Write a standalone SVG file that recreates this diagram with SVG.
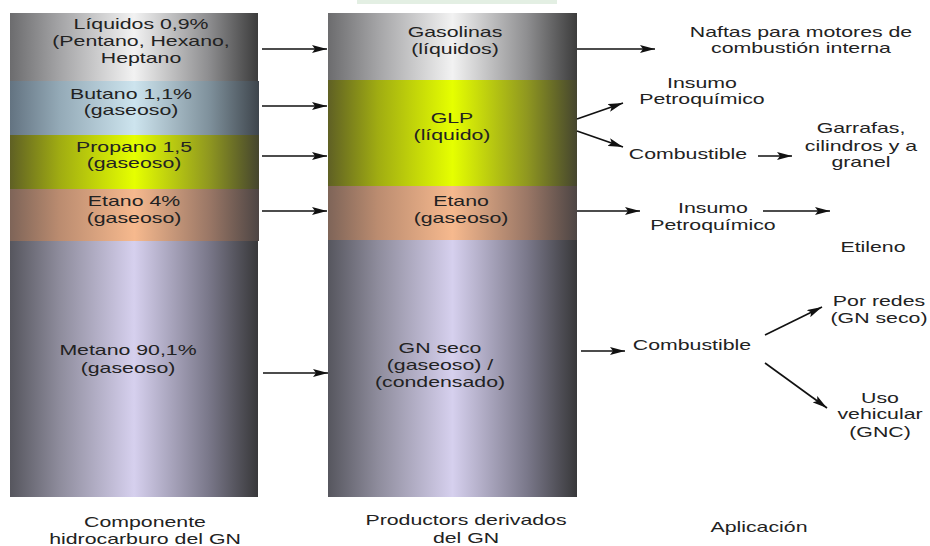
<svg xmlns="http://www.w3.org/2000/svg" width="930" height="546" viewBox="0 0 930 546">
  <defs>
    <style>
      text { font-family: "Liberation Sans", Arial, sans-serif; font-size: 15px; fill: #222; text-anchor: middle; }
      .link { stroke: #111; stroke-width: 1.6; fill: none; marker-end: url(#head); }
    </style>
    <marker id="head" markerUnits="userSpaceOnUse" markerWidth="16" markerHeight="8" refX="15" refY="4" orient="auto">
      <path d="M0,0 L15,4 L0,8 L3,4 z" fill="#111"/>
    </marker>
    <!-- cylinder-style horizontal shading, one per band colour -->
    <linearGradient id="gGray" x1="0" y1="0" x2="1" y2="0">
      <stop offset="0" stop-color="#6c6c6e"/>
      <stop offset="0.2" stop-color="#a4a4a6"/>
      <stop offset="0.5" stop-color="#f2f2f2"/>
      <stop offset="0.8" stop-color="#8e8e90"/>
      <stop offset="1" stop-color="#3c3c3c"/>
    </linearGradient>
    <linearGradient id="gBlue" x1="0" y1="0" x2="1" y2="0">
      <stop offset="0" stop-color="#637381"/>
      <stop offset="0.2" stop-color="#94aab7"/>
      <stop offset="0.5" stop-color="#cde4ee"/>
      <stop offset="0.8" stop-color="#7f919c"/>
      <stop offset="1" stop-color="#3e454c"/>
    </linearGradient>
    <linearGradient id="gLime" x1="0" y1="0" x2="1" y2="0">
      <stop offset="0" stop-color="#5f6024"/>
      <stop offset="0.2" stop-color="#a0ac12"/>
      <stop offset="0.5" stop-color="#e6ff00"/>
      <stop offset="0.8" stop-color="#8f9720"/>
      <stop offset="1" stop-color="#45452e"/>
    </linearGradient>
    <linearGradient id="gOrange" x1="0" y1="0" x2="1" y2="0">
      <stop offset="0" stop-color="#7e6458"/>
      <stop offset="0.2" stop-color="#bb8c70"/>
      <stop offset="0.5" stop-color="#f6b98e"/>
      <stop offset="0.8" stop-color="#9a7766"/>
      <stop offset="1" stop-color="#4d4544"/>
    </linearGradient>
    <linearGradient id="gLilac" x1="0" y1="0" x2="1" y2="0">
      <stop offset="0" stop-color="#56565e"/>
      <stop offset="0.2" stop-color="#8e8c9c"/>
      <stop offset="0.5" stop-color="#d6d0ee"/>
      <stop offset="0.8" stop-color="#7a788a"/>
      <stop offset="1" stop-color="#38383a"/>
    </linearGradient>
  </defs>

  <rect width="930" height="546" fill="#ffffff"/>
  <rect x="357" y="0" width="200" height="4" fill="#e3efe3"/>

  <!-- Column 1: hydrocarbon components -->
  <g id="liquidos">
    <rect x="10" y="13" width="248" height="68" fill="url(#gGray)"/>
    <text transform="translate(141,29) scale(1.42,1)"><tspan x="0" y="0">Líquidos 0,9%</tspan><tspan x="0" y="17">(Pentano, Hexano,</tspan><tspan x="0" y="34">Heptano</tspan></text>
  </g>
  <g id="butano">
    <rect x="10" y="81" width="249" height="54" fill="url(#gBlue)"/>
    <text transform="translate(131,99) scale(1.42,1)"><tspan x="0" y="0">Butano 1,1%</tspan><tspan x="0" y="16">(gaseoso)</tspan></text>
  </g>
  <g id="propano">
    <rect x="10" y="135" width="249" height="54" fill="url(#gLime)"/>
    <text transform="translate(134,152) scale(1.42,1)"><tspan x="0" y="0">Propano 1,5</tspan><tspan x="0" y="16">(gaseoso)</tspan></text>
  </g>
  <g id="etano-componente">
    <rect x="10" y="189" width="249" height="52" fill="url(#gOrange)"/>
    <text transform="translate(134,206) scale(1.42,1)"><tspan x="0" y="0">Etano 4%</tspan><tspan x="0" y="17">(gaseoso)</tspan></text>
  </g>
  <g id="metano">
    <rect x="10" y="241" width="248" height="256" fill="url(#gLilac)"/>
    <text transform="translate(128,355) scale(1.42,1)"><tspan x="0" y="0">Metano 90,1%</tspan><tspan x="0" y="18">(gaseoso)</tspan></text>
  </g>

  <!-- Column 2: derived products -->
  <g id="gasolinas">
    <rect x="328" y="13" width="249" height="67" fill="url(#gGray)"/>
    <text transform="translate(455,37) scale(1.42,1)"><tspan x="0" y="0">Gasolinas</tspan><tspan x="0" y="17">(líquidos)</tspan></text>
  </g>
  <g id="glp">
    <rect x="328" y="80" width="249" height="106" fill="url(#gLime)"/>
    <text transform="translate(452,123) scale(1.42,1)"><tspan x="0" y="0">GLP</tspan><tspan x="0" y="17">(líquido)</tspan></text>
  </g>
  <g id="etano-producto">
    <rect x="328" y="186" width="249" height="54" fill="url(#gOrange)"/>
    <text transform="translate(461,206) scale(1.42,1)"><tspan x="0" y="0">Etano</tspan><tspan x="0" y="17">(gaseoso)</tspan></text>
  </g>
  <g id="gn-seco">
    <rect x="328" y="240" width="249" height="257" fill="url(#gLilac)"/>
    <text transform="translate(440,353) scale(1.42,1)"><tspan x="0" y="0">GN seco</tspan><tspan x="0" y="17">(gaseoso) /</tspan><tspan x="0" y="34">(condensado)</tspan></text>
  </g>

  <!-- Column 3: applications -->
  <g id="naftas">
    <text transform="translate(801,37) scale(1.42,1)"><tspan x="0" y="0">Naftas para motores de</tspan><tspan x="0" y="16">combustión interna</tspan></text>
  </g>
  <g id="insumo-glp">
    <text transform="translate(702,88) scale(1.42,1)"><tspan x="0" y="0">Insumo</tspan><tspan x="0" y="16">Petroquímico</tspan></text>
  </g>
  <g id="combustible-glp">
    <text transform="translate(688,159) scale(1.42,1)">Combustible</text>
  </g>
  <g id="garrafas">
    <text transform="translate(861,133) scale(1.42,1)"><tspan x="0" y="0">Garrafas,</tspan><tspan x="0" y="18">cilindros y a</tspan><tspan x="0" y="34">granel</tspan></text>
  </g>
  <g id="insumo-etano">
    <text transform="translate(713,213) scale(1.42,1)"><tspan x="0" y="0">Insumo</tspan><tspan x="0" y="17">Petroquímico</tspan></text>
  </g>
  <g id="etileno">
    <text transform="translate(873,252) scale(1.42,1)">Etileno</text>
  </g>
  <g id="combustible-gn">
    <text transform="translate(692,350) scale(1.42,1)">Combustible</text>
  </g>
  <g id="redes">
    <text transform="translate(879,306) scale(1.42,1)"><tspan x="0" y="0">Por redes</tspan><tspan x="0" y="17">(GN seco)</tspan></text>
  </g>
  <g id="vehicular">
    <text transform="translate(880,403) scale(1.42,1)"><tspan x="0" y="0">Uso</tspan><tspan x="0" y="16">vehicular</tspan><tspan x="0" y="34">(GNC)</tspan></text>
  </g>

  <!-- Column captions -->
  <g id="caption-componente">
    <text transform="translate(145,527) scale(1.42,1)"><tspan x="0" y="0">Componente</tspan><tspan x="0" y="17">hidrocarburo del GN</tspan></text>
  </g>
  <g id="caption-productos">
    <text transform="translate(466,525) scale(1.42,1)"><tspan x="0" y="0">Productors derivados</tspan><tspan x="0" y="18">del GN</tspan></text>
  </g>
  <g id="caption-aplicacion">
    <text transform="translate(759,532) scale(1.42,1)">Aplicación</text>
  </g>

  <!-- Connectors -->
  <g id="connectors">
    <line class="link" x1="262" y1="49" x2="327" y2="49"/>
    <line class="link" x1="262" y1="106" x2="327" y2="106"/>
    <line class="link" x1="262" y1="156" x2="327" y2="156"/>
    <line class="link" x1="262" y1="211" x2="327" y2="211"/>
    <line class="link" x1="263" y1="373" x2="328" y2="373"/>
    <line class="link" x1="577" y1="49" x2="655" y2="49"/>
    <line class="link" x1="577" y1="119" x2="623" y2="103"/>
    <line class="link" x1="577" y1="131" x2="623" y2="147"/>
    <line class="link" x1="758" y1="156" x2="792" y2="156"/>
    <line class="link" x1="577" y1="211" x2="640" y2="211"/>
    <line class="link" x1="763" y1="211" x2="830" y2="211"/>
    <line class="link" x1="581" y1="351" x2="625" y2="351"/>
    <line class="link" x1="765" y1="335" x2="822" y2="307"/>
    <line class="link" x1="765" y1="363" x2="827" y2="408"/>
  </g>
</svg>
